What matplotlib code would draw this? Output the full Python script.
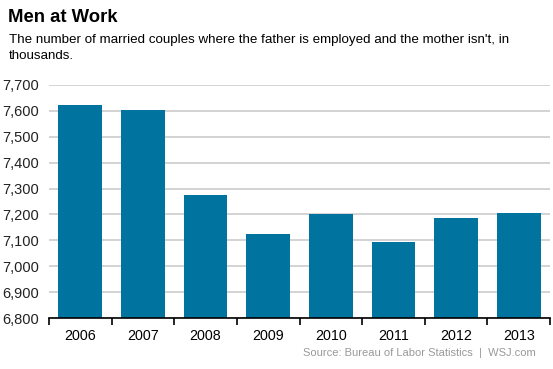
import numpy as np
import matplotlib.pyplot as plt
from matplotlib.ticker import FuncFormatter

plt.rcParams['font.family'] = ['Liberation Sans', 'DejaVu Sans']

# data (thousands)
years = ['2006', '2007', '2008', '2009', '2010', '2011', '2012', '2013']
couples = [7623, 7603, 7275, 7123, 7200, 7093, 7187, 7205]

fig = plt.figure(figsize=(5.53, 3.69), dpi=100)
ax = fig.add_axes([49 / 553, 51 / 369, 501 / 553, 233 / 369])

x = np.arange(len(years))
ax.bar(x, couples, width=0.7, color='#00739f', zorder=2)

ax.set_xlim(-0.5, len(years) - 0.5)
ax.set_ylim(6800, 7700)
ax.set_yticks(np.arange(6800, 7701, 100))
ax.yaxis.set_major_formatter(FuncFormatter(lambda v, p: f'{int(v):,}'))
ax.grid(axis='y', color='#cccccc', linewidth=1.2, zorder=0)

for s in ['top', 'right', 'left']:
    ax.spines[s].set_visible(False)
ax.spines['bottom'].set_linewidth(1.2)
ax.spines['bottom'].set_zorder(3)

ax.tick_params(axis='y', length=0, pad=34, labelsize=10.5, colors='#222222')
for lab in ax.get_yticklabels():
    lab.set_horizontalalignment('left')

ax.set_xticks(x)
ax.set_xticklabels(years)
ax.set_xticks(np.arange(-0.5, len(years)), minor=True)
ax.tick_params(axis='x', which='major', length=0, pad=8, labelsize=10.3)
ax.tick_params(axis='x', which='minor', length=5, width=1.2)

fig.text(8 / 553, 1 - 18 / 369, 'Men at Work', fontsize=13.3, fontweight='bold', va='center')
fig.text(9 / 553, 1 - 34 / 369,
         "The number of married couples where the father is employed and the mother isn't, in\nthousands.",
         fontsize=9.6, va='top', linespacing=1.45)
fig.text(536 / 553, 1 - 353 / 369, 'Source: Bureau of Labor Statistics  |  WSJ.com',
         fontsize=8.0, color='#999999', ha='right', va='center')

fig.savefig('out.png', dpi=100)
